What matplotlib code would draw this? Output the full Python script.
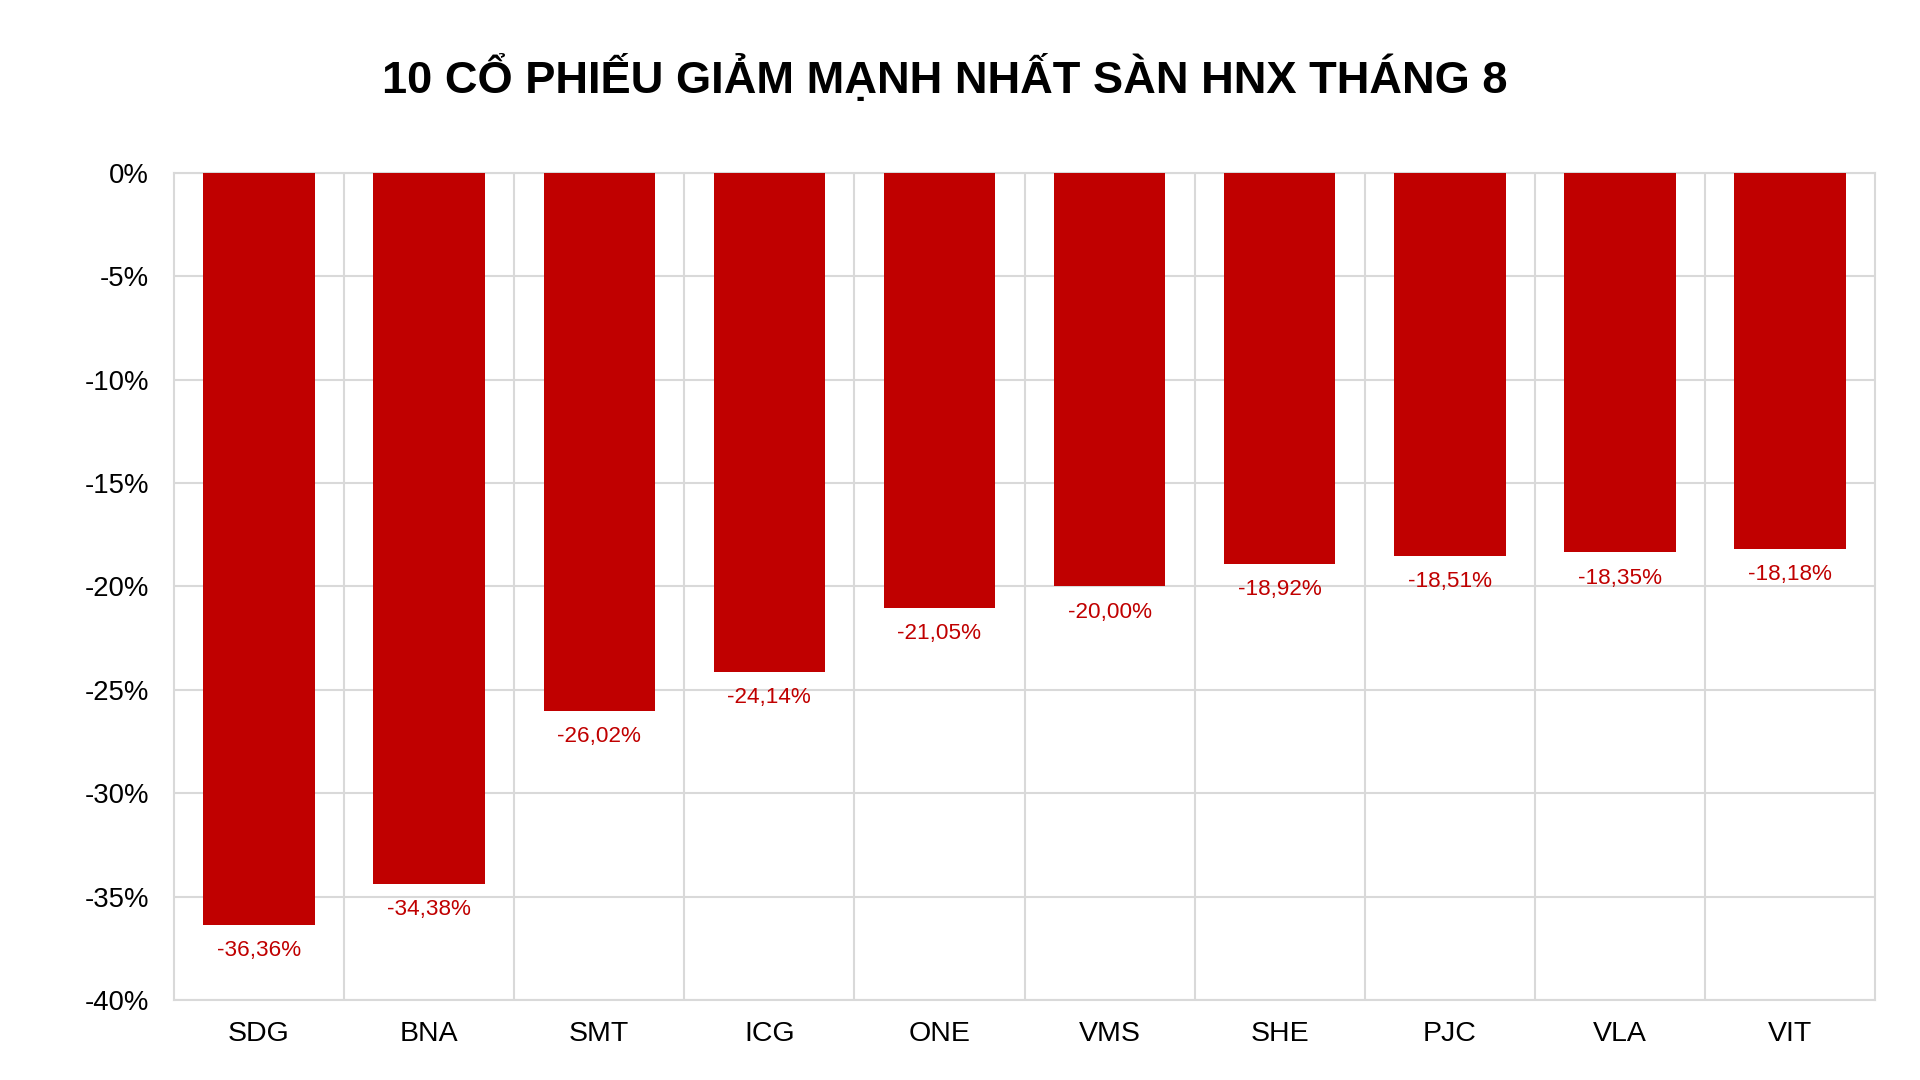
import matplotlib
matplotlib.use("Agg")
import matplotlib.pyplot as plt
from matplotlib.ticker import FixedLocator

# ==========================================
# Data
# ==========================================

tickers = ["SDG", "BNA", "SMT", "ICG", "ONE", "VMS", "SHE", "PJC", "VLA", "VIT"]
changes = [-36.36, -34.38, -26.02, -24.14, -21.05, -20.00, -18.92, -18.51, -18.35, -18.18]
y_ticks = [0, -5, -10, -15, -20, -25, -30, -35, -40]

title = "10 CỔ PHIẾU GIẢM MẠNH NHẤT SÀN HNX THÁNG 8"

# ==========================================
# Style
# ==========================================

plt.rcParams["font.family"] = ["Liberation Sans", "DejaVu Sans"]

bar_color = "#C00000"
grid_color = "#D9D9D9"

# ==========================================
# Plot
# ==========================================

fig = plt.figure(figsize=(19.2, 10.8), dpi=100)
ax = fig.add_axes([0.0906, 0.074, 0.886, 0.766])

x = list(range(len(tickers)))

ax.bar(x, changes, width=0.655, color=bar_color, zorder=3)

for xi, v in zip(x, changes):
    label = f"{v:.2f}%".replace(".", ",")
    ax.annotate(
        label,
        xy=(xi, v),
        xytext=(0, -11),
        textcoords="offset points",
        ha="center",
        va="top",
        fontsize=16.2,
        color=bar_color,
    )

ax.set_xlim(-0.5, len(tickers) - 0.5)
ax.set_ylim(-40, 0)

ax.set_yticks(y_ticks)
ax.set_yticklabels([f"{t}%" for t in y_ticks], fontsize=19.8)
ax.set_xticks(x)
ax.set_xticklabels(tickers, fontsize=20.5)

ax.xaxis.set_minor_locator(FixedLocator([i + 0.5 for i in range(len(tickers) - 1)]))

ax.tick_params(axis="both", which="both", length=0)
ax.tick_params(axis="y", pad=18)
ax.tick_params(axis="x", pad=15)

ax.grid(axis="y", which="major", color=grid_color, linewidth=1.5, zorder=0)
ax.grid(axis="x", which="minor", color=grid_color, linewidth=1.5, zorder=0)
ax.grid(axis="x", which="major", visible=False)

for s in ax.spines.values():
    s.set_color(grid_color)
    s.set_linewidth(1.5)

fig.text(0.492, 0.928, title, ha="center", va="center",
         fontsize=32.6, fontweight="bold", color="black")

fig.savefig("out.png", dpi=100, facecolor="white")
